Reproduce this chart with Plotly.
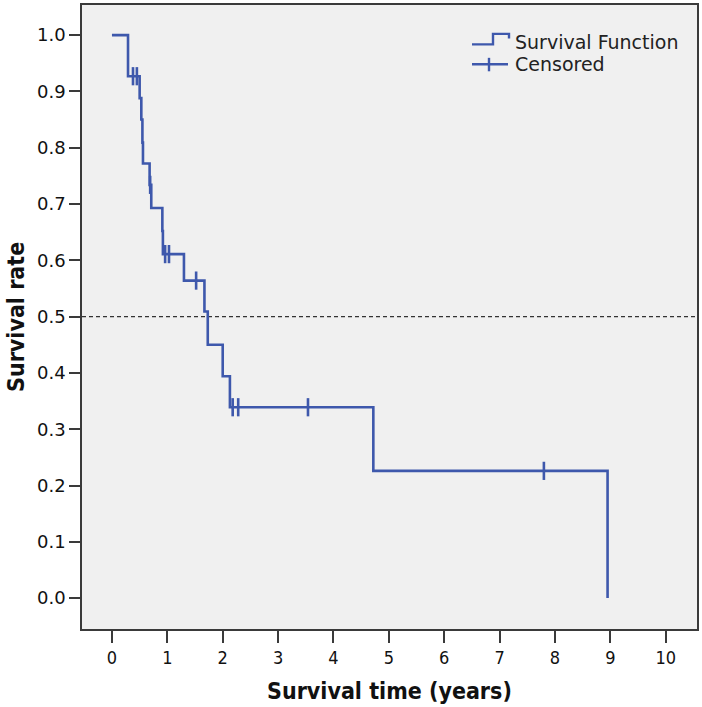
import plotly.graph_objects as go

# Kaplan-Meier step data (time in years, survival rate)
step_times = [0, 0.29, 0.50, 0.53, 0.55, 0.56, 0.68, 0.71, 0.91, 0.92, 1.30, 1.67, 1.73, 2.00, 2.13, 4.72, 8.95]
step_surv = [1.0, 0.927, 0.888, 0.850, 0.809, 0.772, 0.734, 0.693, 0.652, 0.611, 0.564, 0.509, 0.450, 0.394, 0.339, 0.226, 0.0]

# Censored observations
cens_times = [0.38, 0.45, 0.69, 0.96, 1.03, 1.52, 2.18, 2.28, 3.54, 7.80]
cens_surv = [0.927, 0.927, 0.734, 0.611, 0.611, 0.564, 0.339, 0.339, 0.339, 0.226]

x_ticks = list(range(0, 11))
y_ticks = [round(i * 0.1, 1) for i in range(0, 11)]
median_ref = 0.5

BLUE = "#3E58AC"
AXIS = "#3a3a3a"

W, H = 702, 707
ML, MR, MT, MB = 82, 5, 3, 78
PW, PH = W - ML - MR, H - MT - MB


def px(xp):
    return (xp - ML) / PW


def py(yp):
    return 1 - (yp - MT) / PH


fig = go.Figure()
fig.add_trace(go.Scatter(x=step_times, y=step_surv, mode="lines", line=dict(color=BLUE, width=2.6, shape="hv"),
                         showlegend=False, hoverinfo="skip"))
fig.add_trace(go.Scatter(x=cens_times, y=cens_surv, mode="markers",
                         marker=dict(symbol="line-ns", size=13, line=dict(color=BLUE, width=2.6)),
                         showlegend=False, hoverinfo="skip"))

shapes = [
    dict(type="line", xref="paper", yref="y", x0=0, x1=1, y0=median_ref, y1=median_ref,
         line=dict(color="#333333", width=1.2, dash="4px,3px"), layer="below"),
    # legend icons
    dict(type="path", xref="paper", yref="paper",
         path=f"M {px(472)} {py(42.5)} L {px(493)} {py(42.5)} L {px(493)} {py(32)} L {px(509)} {py(32)} L {px(509)} {py(36.5)}",
         line=dict(color=BLUE, width=2.4)),
    dict(type="line", xref="paper", yref="paper", x0=px(472), x1=px(508), y0=py(62.5), y1=py(62.5),
         line=dict(color=BLUE, width=2.4)),
    dict(type="line", xref="paper", yref="paper", x0=px(489), x1=px(489), y0=py(56), y1=py(69.5),
         line=dict(color=BLUE, width=2.4)),
]

annotations = [
    dict(text="Survival Function", xref="paper", yref="paper", x=px(513), y=py(40), xanchor="left", yanchor="middle",
         showarrow=False, font=dict(family="DejaVu Sans", size=19, color="#222222")),
    dict(text="Censored", xref="paper", yref="paper", x=px(513), y=py(62), xanchor="left", yanchor="middle",
         showarrow=False, font=dict(family="DejaVu Sans", size=19, color="#222222")),
    dict(text="<b>Survival time (years)</b>", xref="paper", yref="paper", x=0.5, y=py(691), xanchor="center",
         yanchor="middle", showarrow=False, font=dict(family="DejaVu Sans Condensed", size=23, color="#111111")),
    dict(text="<b>Survival rate</b>", xref="paper", yref="paper", x=px(16), y=0.5, xanchor="center",
         yanchor="middle", textangle=-90, showarrow=False,
         font=dict(family="DejaVu Sans Condensed", size=23, color="#111111")),
]

fig.update_layout(
    width=W, height=H,
    margin=dict(l=ML, r=MR, t=MT, b=MB),
    paper_bgcolor="white", plot_bgcolor="#F0F0F0",
    shapes=shapes, annotations=annotations, showlegend=False,
)
fig.update_xaxes(range=[-0.541, 10.565], tickvals=x_ticks, ticktext=[str(v) for v in x_ticks],
                 showgrid=False, zeroline=False, showline=True, mirror=True, linecolor=AXIS, linewidth=1.6,
                 ticks="outside", ticklen=12, tickwidth=1.6, tickcolor=AXIS,
                 tickfont=dict(family="DejaVu Sans Condensed", size=18, color="#111111"))
fig.update_yaxes(range=[-0.0549, 1.0535], tickvals=y_ticks, ticktext=[f"{v:.1f}" for v in y_ticks],
                 showgrid=False, zeroline=False, showline=True, mirror=True, linecolor=AXIS, linewidth=1.6,
                 ticks="outside", ticklen=11, tickwidth=1.6, tickcolor=AXIS,
                 tickfont=dict(family="DejaVu Sans", size=18, color="#111111"))

fig.write_html("out.html", config={"displayModeBar": False},
               post_script="document.body.style.margin='0';document.body.style.overflow='hidden';")
